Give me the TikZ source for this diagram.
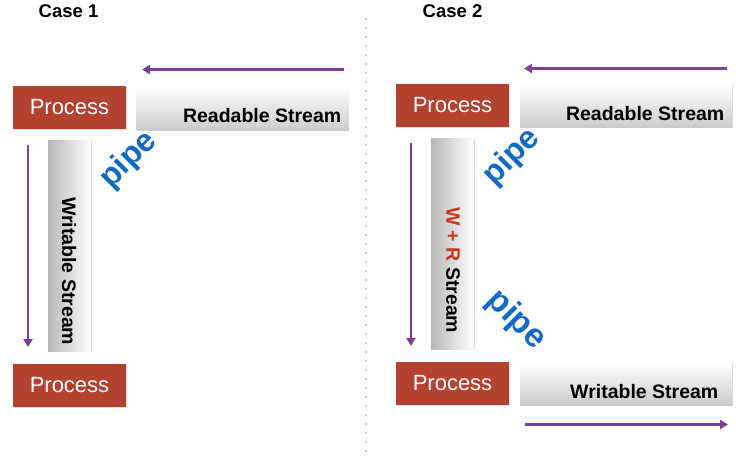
\documentclass[tikz,border=0pt]{standalone}
\usepackage{fontspec}
\setmainfont{Liberation Sans}
\usetikzlibrary{arrows.meta,shadows}
\definecolor{procred}{RGB}{180,66,48}
\definecolor{pipeblue}{RGB}{18,106,196}
\definecolor{arrpurple}{RGB}{124,62,152}
\definecolor{wrred}{RGB}{206,52,28}
\tikzset{
  proc/.style={fill=procred, text=white, inner sep=0pt,
    minimum width=113, minimum height=43,
    font=\fontsize{22}{24}\selectfont,
    drop shadow={shadow xshift=0.6pt, shadow yshift=-1.2pt, opacity=0.25}},
  hbox/.style={shading=axis, top color=white, bottom color=black!20, inner sep=0pt,
    minimum width=212, minimum height=44,
    drop shadow={shadow xshift=0.6pt, shadow yshift=-1.2pt, opacity=0.3}},
  vbox/.style={shading=axis, left color=black!28, right color=white, inner sep=0pt,
    minimum width=43, minimum height=211,
    drop shadow={shadow xshift=0.6pt, shadow yshift=-1.2pt, opacity=0.3}},
  btxt/.style={font=\fontsize{19.5}{21}\selectfont\bfseries, inner sep=0pt},
  pipetxt/.style={font=\fontsize{32}{34}\selectfont\bfseries, text=pipeblue, inner sep=0pt},
  flow/.style={draw=arrpurple, line width=2.3pt, -{Triangle[width=9pt,length=8pt]}},
  divider/.style={draw=black!40, line width=1.8pt, line cap=round, dash pattern=on 0pt off 9pt}
}
\begin{document}
\begin{tikzpicture}[x=1pt,y=-1pt]
\useasboundingbox (0,0) rectangle (736,456);
\fill[white] (0,0) rectangle (736,456);

% divider
\coordinate (dtop) at (366,19);
\coordinate (dbot) at (366,451);
\draw[divider] (dtop) -- (dbot);

% Titles
\node[btxt, font=\fontsize{18.5}{20}\selectfont\bfseries] (case1) at (68.5,11) {Case 1};
\node[btxt, font=\fontsize{18.5}{20}\selectfont\bfseries] (case2) at (452.5,11) {Case 2};

% ---------- Case 1 ----------
\node[proc] (p1a) at (69.5,107.5) {Process};
\node[hbox] (rs1) at (242.5,108) {};
\node[btxt, anchor=base east] (rs1t) at (341.5,122.5) {Readable Stream};
\node[vbox] (ws1) at (69.5,245.5) {};
\node[btxt, rotate=-90, anchor=east] (ws1t) at (69,345.5) {Writable Stream};
\node[proc] (p1b) at (69.5,385.5) {Process};
\node[pipetxt, rotate=45] (pipe1) at (128.5,160) {pipe};

\coordinate (a1s) at (344,69.5);
\coordinate (a1e) at (142,69.5);
\draw[flow] (a1s) -- (a1e);
\coordinate (a2s) at (28,145);
\coordinate (a2e) at (28,347);
\draw[flow] (a2s) -- (a2e);

% ---------- Case 2 ----------
\node[proc] (p2a) at (452.5,105.5) {Process};
\node[hbox, minimum height=43] (rs2) at (626,105.5) {};
\node[btxt, anchor=base east] (rs2t) at (724.5,120.5) {Readable Stream};
\node[vbox] (wr2) at (452.5,243.5) {};
\node[btxt, rotate=-90, anchor=east] (wr2t) at (453,333.5) {\textcolor{wrred}{W + R} Stream};
\node[proc] (p2b) at (452.5,383.5) {Process};
\node[hbox, minimum height=43] (ws2) at (626,383.5) {};
\node[btxt, anchor=base east] (ws2t) at (718.5,398) {Writable Stream};
\node[pipetxt, rotate=45] (pipe2) at (512,157) {pipe};
\node[pipetxt, rotate=-45, font=\fontsize{33.5}{35}\selectfont\bfseries] (pipe3) at (516,320) {pipe};

\coordinate (b1s) at (727,68.5);
\coordinate (b1e) at (524,68.5);
\draw[flow] (b1s) -- (b1e);
\coordinate (b2s) at (411,143);
\coordinate (b2e) at (411,346);
\draw[flow] (b2s) -- (b2e);
\coordinate (b3s) at (525,424.5);
\coordinate (b3e) at (728,424.5);
\draw[flow] (b3s) -- (b3e);
\end{tikzpicture}
\end{document}
